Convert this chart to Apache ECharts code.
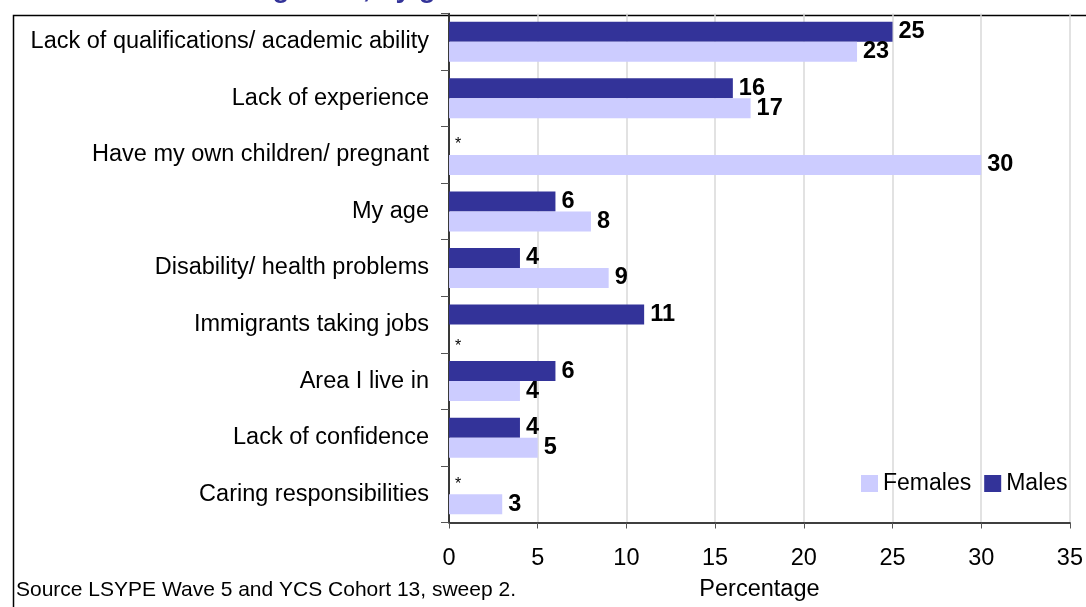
<!DOCTYPE html>
<html>
<head>
<meta charset="utf-8">
<script src="https://cdn.jsdelivr.net/npm/echarts@6/dist/echarts.min.js"></script>
<style>
  html, body { margin: 0; padding: 0; background: #fff; }
  #chart { width: 1086px; height: 607px; }
</style>
</head>
<body>
<div id="chart"></div>
<script>
const categories = [
  'Lack of qualifications/ academic ability',
  'Lack of experience',
  'Have my own children/ pregnant',
  'My age',
  'Disability/ health problems',
  'Immigrants taking jobs',
  'Area I live in',
  'Lack of confidence',
  'Caring responsibilities'
]
// null = not shown in the source (marked with *)
const males = [25, 16, null, 6, 4, 11, 6, 4, null]
const females = [23, 17, 30, 8, 9, null, 4, 5, 3]
const xTicks = { min: 0, max: 35, interval: 5 }

const font = 'Liberation Sans, Arial, sans-serif'

const toItems = (arr, dy) => arr.map(v => v === null
  ? { value: 0, label: { formatter: '*', fontWeight: 'normal', fontSize: 16, distance: 6, offset: [0, dy] } }
  : v)

const valueLabel = { show: true, position: 'right', distance: 6, fontSize: 23.5, fontWeight: 'bold', color: '#000', fontFamily: font }

const myChart = echarts.init(document.getElementById('chart'))
myChart.setOption({
  animation: false,
  textStyle: { fontFamily: font },
  title: {
    text: 'Barriers to finding work, by gender',
    left: 42,
    top: -30,
    textStyle: { color: '#333399', fontSize: 28, fontWeight: 'bold', fontFamily: font }
  },
  graphic: [
    {
      type: 'rect',
      left: 11, top: 13, z: -1,
      shape: { width: 1200, height: 700 },
      style: { fill: 'none', stroke: '#000', lineWidth: 1.5 }
    },
    {
      type: 'text',
      left: 16, top: 580,
      style: { text: 'Source LSYPE Wave 5 and YCS Cohort 13, sweep 2.', fontSize: 21, fill: '#000', fontFamily: font }
    }
  ],
  legend: {
    data: ['Females', 'Males'],
    left: 856, top: 467,
    icon: 'rect',
    itemWidth: 17, itemHeight: 17, itemGap: 13,
    textStyle: { fontSize: 23, color: '#000', fontFamily: font }
  },
  grid: { left: 449, right: 16, top: 13.5, bottom: 84.5 },
  xAxis: {
    type: 'value',
    min: xTicks.min, max: xTicks.max, interval: xTicks.interval,
    name: 'Percentage',
    nameLocation: 'middle',
    nameGap: 55,
    nameTextStyle: { fontSize: 23.5, color: '#000', fontFamily: font },
    axisLine: { show: true, lineStyle: { color: '#000', width: 1.5 } },
    axisTick: { show: true, length: 6, lineStyle: { color: '#555' } },
    axisLabel: { fontSize: 23.5, color: '#000', margin: 24, fontFamily: font },
    splitLine: { show: true, lineStyle: { color: '#d8d8d8', width: 1.5 } }
  },
  yAxis: {
    type: 'category',
    inverse: true,
    data: categories,
    axisLine: { show: true, lineStyle: { color: '#000', width: 1.5 } },
    axisTick: { show: true, length: 8, lineStyle: { color: '#555' } },
    axisLabel: { fontSize: 23.5, color: '#000', margin: 20, fontFamily: font }
  },
  series: [
    {
      name: 'Males',
      type: 'bar',
      data: toItems(males, 0),
      barWidth: 20,
      barGap: '0%',
      itemStyle: { color: '#333399' },
      label: valueLabel
    },
    {
      name: 'Females',
      type: 'bar',
      data: toItems(females, 12),
      barWidth: 20,
      barGap: '0%',
      itemStyle: { color: '#CCCCFF' },
      label: valueLabel
    }
  ]
})
</script>
</body>
</html>
